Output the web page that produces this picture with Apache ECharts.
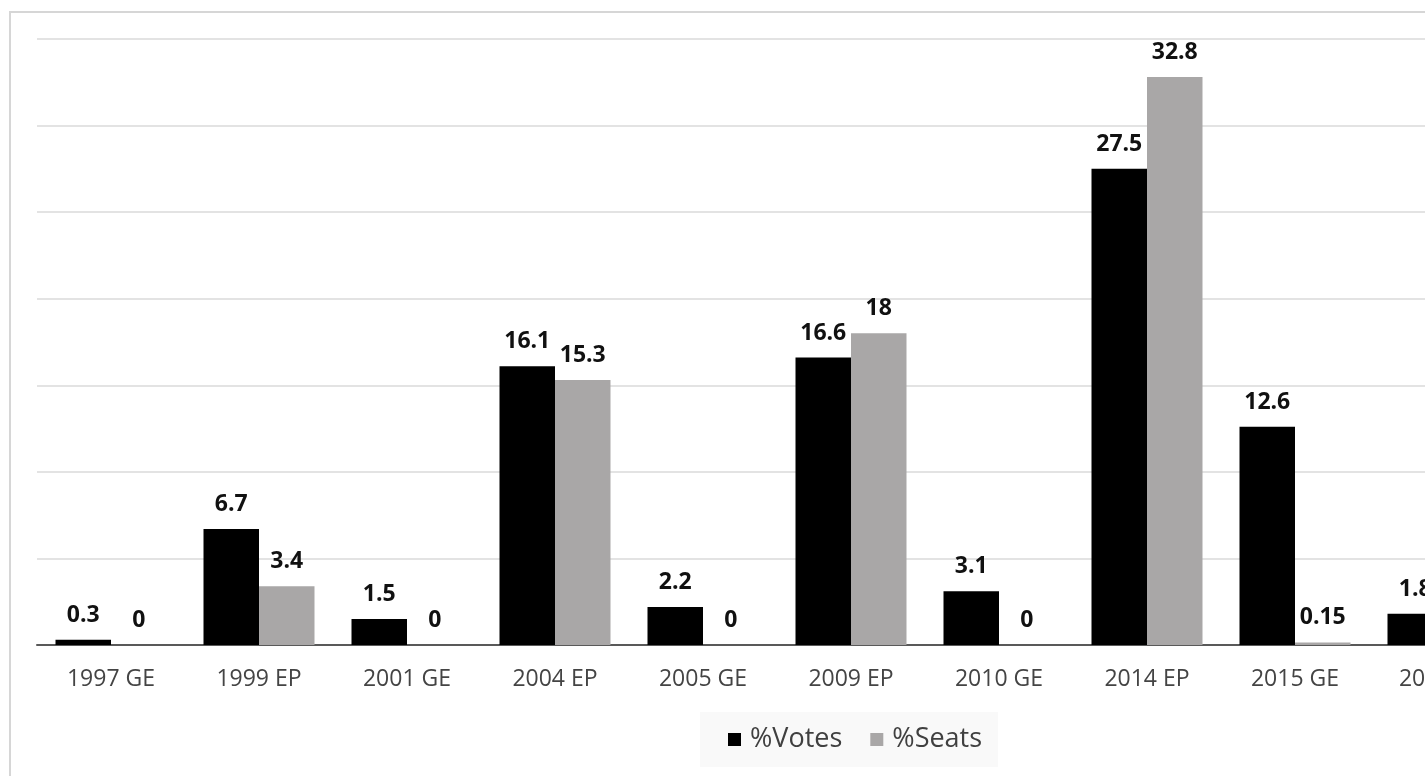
<!DOCTYPE html>
<html>
<head>
<meta charset="utf-8">
<script src="https://cdn.jsdelivr.net/npm/echarts@6/dist/echarts.min.js"></script>
<style>
  html, body { margin: 0; padding: 0; background: #fff; overflow: hidden; width: 1425px; height: 776px; }
  #chart { position: absolute; left: 9px; top: 11px; width: 1640px; height: 800px; border: 2px solid #d6d6d6; }
</style>
</head>
<body>
<div id="chart"></div>
<script>
const categories = ["1997 GE", "1999 EP", "2001 GE", "2004 EP", "2005 GE", "2009 EP", "2010 GE", "2014 EP", "2015 GE", "2017 GE"]
const votes = [0.3, 6.7, 1.5, 16.1, 2.2, 16.6, 3.1, 27.5, 12.6, 1.8]
const seats = [0, 3.4, 0, 15.3, 0, 18, 0, 32.8, 0.15, 0]
const yTicks = { min: 0, max: 35, interval: 5 }

const chart = echarts.init(document.getElementById("chart"))

const labelStyle = {
  show: true,
  position: "top",
  distance: 13,
  color: "#111",
  fontFamily: "Open Sans",
  fontWeight: "bold",
  fontSize: 23,
}

const option = {
  animation: false,
  grid: { left: 26, top: 26, width: 1480, height: 606 },
  legend: {
    left: 689,
    top: 699,
    icon: "rect",
    itemWidth: 13,
    itemHeight: 13,
    itemGap: 28,
    padding: [14, 16, 14, 28],
    backgroundColor: "#f9f9f9",
    textStyle: { fontFamily: "Open Sans", fontSize: 27, color: "#404040", padding: [0, 0, 0, 4] },
    data: ["%Votes", "%Seats"],
  },
  xAxis: {
    type: "category",
    data: categories,
    axisTick: { show: false },
    axisLine: { lineStyle: { color: "#595959", width: 2 } },
    axisLabel: { margin: 23, fontFamily: "Open Sans", fontSize: 23, color: "#444" },
  },
  yAxis: {
    type: "value",
    min: yTicks.min,
    max: yTicks.max,
    interval: yTicks.interval,
    axisLabel: { show: false },
    axisLine: { show: false },
    axisTick: { show: false },
    splitLine: { lineStyle: { color: "#dadada", width: 1.5 } },
  },
  series: [
    {
      name: "%Votes",
      type: "bar",
      data: votes,
      barGap: "0%",
      barCategoryGap: "25%",
      itemStyle: { color: "#000" },
      label: labelStyle,
    },
    {
      name: "%Seats",
      type: "bar",
      data: seats,
      barGap: "0%",
      barCategoryGap: "25%",
      itemStyle: { color: "#a9a7a7" },
      label: labelStyle,
    },
  ],
}

option && chart.setOption(option)
</script>
</body>
</html>
